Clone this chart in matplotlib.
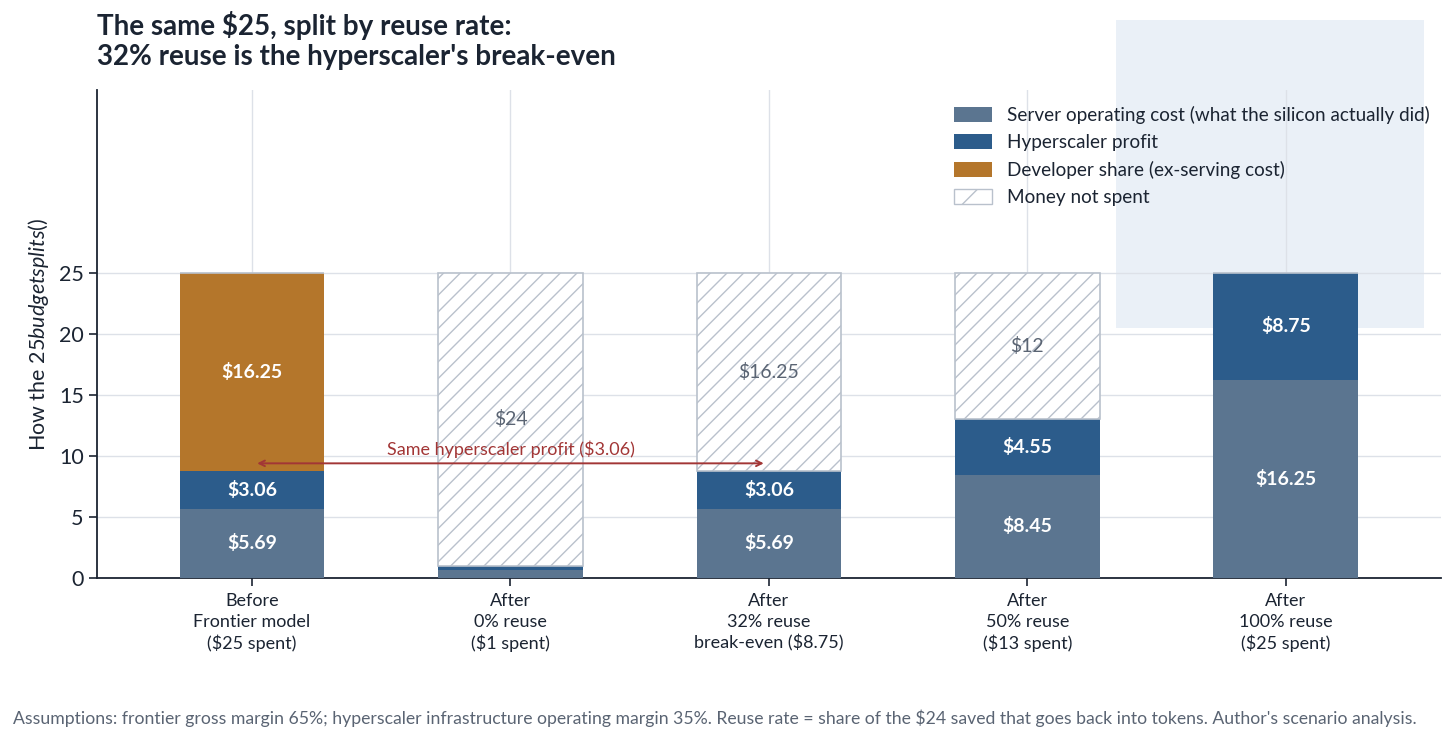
import numpy as np
import matplotlib
matplotlib.use("Agg")
import matplotlib.pyplot as plt
from matplotlib.patches import Patch, Rectangle

plt.rcParams['font.family'] = ['Lato', 'DejaVu Sans']
plt.rcParams['mathtext.fontset'] = 'custom'
plt.rcParams['mathtext.rm'] = 'Lato'
plt.rcParams['mathtext.it'] = 'Lato:italic'
plt.rcParams['hatch.linewidth'] = 1.0

# data
categories = ["Before\nFrontier model\n($25 spent)",
              "After\n0% reuse\n($1 spent)",
              "After\n32% reuse\nbreak-even ($8.75)",
              "After\n50% reuse\n($13 spent)",
              "After\n100% reuse\n($25 spent)"]
server_cost = [5.69, 0.65, 5.69, 8.45, 16.25]
hyper_profit = [3.06, 0.35, 3.06, 4.55, 8.75]
developer = [16.25, 0, 0, 0, 0]
not_spent = [0, 24, 16.25, 12, 0]

legend_labels = ["Server operating cost (what the silicon actually did)",
                 "Hyperscaler profit",
                 "Developer share (ex-serving cost)",
                 "Money not spent"]

c_server = '#5b7590'
c_profit = '#2c5c8b'
c_dev = '#b4762b'
c_hatch = '#b9c1cc'
c_dark = '#1b2432'
c_grey = '#5a6473'
c_red = '#a23636'

fig = plt.figure(figsize=(14.56, 7.43), dpi=100)
ax = fig.add_axes([0.0666, 0.222, 0.923, 0.657])
ax.patch.set_alpha(0)

x = np.arange(len(categories))
w = 0.56
b1 = np.array(server_cost)
b2 = b1 + np.array(hyper_profit)
b3 = b2 + np.array(developer)

ax.bar(x, server_cost, w, color=c_server, zorder=3)
ax.bar(x, hyper_profit, w, bottom=b1, color=c_profit, zorder=3)
ax.bar(x, developer, w, bottom=b2, color=c_dev, zorder=3)
ax.bar(x, not_spent, w, bottom=b3, facecolor='white', edgecolor=c_hatch,
       hatch='//', linewidth=1.2, zorder=3)

# labels inside segments
for i in range(len(x)):
    segs = [(server_cost[i], 0), (hyper_profit[i], b1[i]), (developer[i], b2[i])]
    for v, b in segs:
        if v >= 1:
            ax.text(x[i], b + v / 2, f"${v:.2f}", ha='center', va='center',
                    color='white', fontsize=14, fontweight='bold', zorder=5)
    if not_spent[i] >= 1:
        ax.text(x[i], b3[i] + not_spent[i] / 2, f"${not_spent[i]:g}", ha='center',
                va='center', color=c_grey, fontsize=14, zorder=5)

# same-profit arrow
ax.annotate('', xy=(1.98, 9.4), xytext=(0.02, 9.4),
            arrowprops=dict(arrowstyle='<->', color=c_red, lw=1.4,
                            shrinkA=0, shrinkB=0), zorder=6)
ax.text(1, 9.85, "Same hyperscaler profit ($3.06)", ha='center', va='bottom',
        color=c_red, fontsize=13, zorder=6)

ax.set_xlim(-0.6, 4.6)
ax.set_ylim(0, 40)
ax.set_yticks([0, 5, 10, 15, 20, 25])
ax.set_xticks(x)
ax.set_xticklabels(categories, fontsize=13, color=c_dark, linespacing=1.33)
ax.tick_params(axis='y', labelsize=15.5, colors=c_dark, length=6, width=1.2)
ax.tick_params(axis='x', length=6, width=1.2, colors=c_dark, pad=5)
ax.set_ylabel("How the $25 budget splits ($)", fontsize=15.5, color=c_dark, labelpad=6)
ax.grid(True, color='#dde1e8', linewidth=1, zorder=0)
ax.set_axisbelow(True)
for s in ['top', 'right']:
    ax.spines[s].set_visible(False)
for s in ['left', 'bottom']:
    ax.spines[s].set_color(c_dark)
    ax.spines[s].set_linewidth(1.3)

handles = [Patch(facecolor=c_server), Patch(facecolor=c_profit),
           Patch(facecolor=c_dev),
           Patch(facecolor='white', edgecolor=c_hatch, hatch='/')]
ax.legend(handles, legend_labels, loc='upper right', bbox_to_anchor=(1.0, 0.99),
          frameon=False, fontsize=13.6, handlelength=2.0, handleheight=0.85,
          labelspacing=0.52, handletextpad=0.8, borderaxespad=0.2,
          labelcolor=c_dark)

fig.text(0.0666, 0.985, "The same $25, split by reuse rate:\n32% reuse is the hyperscaler's break-even",
         ha='left', va='top', fontsize=20, fontweight='bold', color=c_dark,
         linespacing=1.18)
fig.text(0.009, 0.033, "Assumptions: frontier gross margin 65%; hyperscaler infrastructure operating margin 35%. "
         "Reuse rate = share of the $24 saved that goes back into tokens. Author's scenario analysis.",
         ha='left', va='center', fontsize=12.7, color=c_grey)

# pale backdrop where the reference has a pasted illustration
fig.patches.append(Rectangle((1116 / 1456, 1 - 328 / 743), 308 / 1456, 308 / 743,
                             transform=fig.transFigure, facecolor='#eaf0f7',
                             edgecolor='none', zorder=-1))

fig.savefig("out.png", dpi=100)
